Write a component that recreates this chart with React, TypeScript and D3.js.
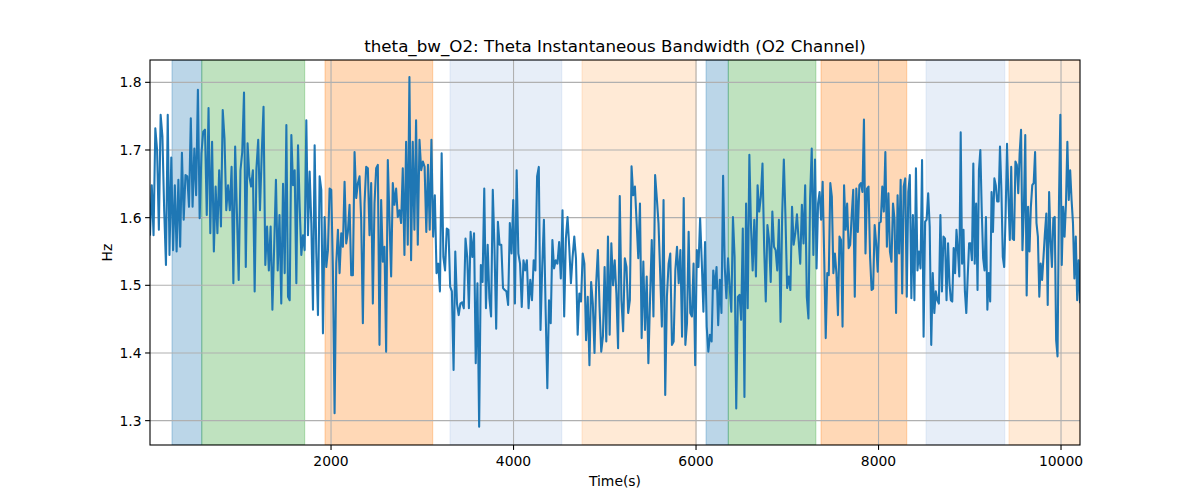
import React from "react";
import * as d3 from "d3";

// Signal values, read segment by segment across the time axis
const seg1 = [1.575, 1.648, 1.574, 1.732, 1.70, 1.582, 1.752, 1.72, 1.611, 1.530, 1.752, 1.545, 1.689, 1.552, 1.648, 1.550, 1.656, 1.557, 1.696, 1.597, 1.663, 1.661, 1.616, 1.747, 1.616, 1.702, 1.633, 1.789, 1.599, 1.695, 1.727, 1.730, 1.604, 1.762, 1.577, 1.712, 1.550, 1.646, 1.577, 1.670, 1.587, 1.759, 1.717, 1.611, 1.648, 1.611, 1.675, 1.503, 1.705, 1.606, 1.508, 1.670, 1.697, 1.785, 1.527, 1.710, 1.661, 1.646, 1.670, 1.491, 1.673, 1.715, 1.611, 1.695, 1.764, 1.530, 1.587, 1.522, 1.587, 1.464, 1.557, 1.656, 1.522, 1.604, 1.473];
const seg2 = [1.650, 1.518, 1.737, 1.483, 1.478, 1.722, 1.648, 1.670, 1.503, 1.707, 1.616, 1.545, 1.574, 1.552, 1.744, 1.574, 1.668, 1.592, 1.464, 1.707, 1.547, 1.456, 1.661, 1.641, 1.429, 1.601, 1.527, 1.552, 1.643, 1.641, 1.522, 1.311, 1.532, 1.582, 1.518, 1.577, 1.557, 1.653, 1.562, 1.579, 1.619, 1.515, 1.515, 1.697, 1.629, 1.651, 1.661, 1.597, 1.444, 1.621, 1.675, 1.673, 1.574, 1.651, 1.473, 1.621, 1.673, 1.678, 1.412, 1.626, 1.535, 1.557, 1.402, 1.685, 1.597, 1.513, 1.651, 1.619, 1.643, 1.601, 1.611, 1.592, 1.673, 1.545, 1.712, 1.560, 1.808, 1.537, 1.712, 1.582];
const seg3 = [1.744, 1.560, 1.715, 1.670, 1.683, 1.675, 1.579, 1.678, 1.582, 1.715, 1.572, 1.633, 1.518, 1.532, 1.491, 1.695, 1.542, 1.522, 1.584, 1.582, 1.498, 1.491, 1.375, 1.550, 1.473, 1.456, 1.473, 1.475, 1.466, 1.569, 1.542, 1.466, 1.579, 1.542, 1.577, 1.385, 1.503, 1.291, 1.530, 1.505, 1.643, 1.466, 1.560, 1.481, 1.454, 1.641, 1.555, 1.436, 1.594, 1.560, 1.560, 1.496, 1.493, 1.491, 1.471, 1.592, 1.547, 1.626, 1.473, 1.670, 1.547, 1.532, 1.468, 1.537, 1.522, 1.537, 1.466, 1.508, 1.478, 1.537, 1.522, 1.661, 1.675, 1.434, 1.527, 1.597, 1.464, 1.348];
const seg4 = [1.478, 1.444, 1.567, 1.525, 1.537, 1.532, 1.564, 1.510, 1.611, 1.454, 1.569, 1.601, 1.557, 1.503, 1.542, 1.572, 1.540, 1.427, 1.488, 1.476, 1.547, 1.532, 1.419, 1.483, 1.382, 1.505, 1.473, 1.400, 1.503, 1.552, 1.468, 1.402, 1.424, 1.527, 1.417, 1.572, 1.427, 1.562, 1.500, 1.537, 1.488, 1.407, 1.632, 1.478, 1.432, 1.540, 1.527, 1.459, 1.478, 1.676, 1.633, 1.646, 1.594, 1.540, 1.621, 1.422, 1.535, 1.434, 1.513, 1.385, 1.481, 1.567, 1.454, 1.663, 1.629, 1.592, 1.518, 1.439, 1.626, 1.338, 1.483, 1.532, 1.547, 1.412, 1.417, 1.522, 1.557, 1.503, 1.552];
const seg5 = [1.424, 1.629, 1.412, 1.444, 1.579, 1.459, 1.454, 1.532, 1.382, 1.552, 1.527, 1.599, 1.535, 1.461, 1.564, 1.439, 1.402, 1.427, 1.417, 1.522, 1.495, 1.527, 1.441, 1.508, 1.459, 1.662, 1.527, 1.481, 1.540, 1.498, 1.461, 1.601, 1.542, 1.318, 1.483, 1.486, 1.449, 1.584, 1.335, 1.621, 1.466, 1.693, 1.587, 1.522, 1.597, 1.513, 1.648, 1.609, 1.631, 1.680, 1.557, 1.476, 1.589, 1.567, 1.505, 1.609, 1.557, 1.552, 1.522, 1.597, 1.446, 1.606, 1.686, 1.601, 1.496, 1.513, 1.493, 1.616, 1.560, 1.577, 1.605, 1.567, 1.532, 1.619, 1.562, 1.648, 1.483, 1.451, 1.629, 1.702, 1.545];
const seg6 = [1.686, 1.525, 1.621, 1.638, 1.597, 1.653, 1.542, 1.422, 1.518, 1.515, 1.651, 1.631, 1.518, 1.547, 1.518, 1.456, 1.572, 1.567, 1.439, 1.648, 1.582, 1.621, 1.555, 1.560, 1.604, 1.641, 1.483, 1.643, 1.579, 1.648, 1.651, 1.638, 1.745, 1.547, 1.643, 1.646, 1.542, 1.493, 1.495, 1.589, 1.562, 1.520, 1.592, 1.594, 1.646, 1.609, 1.697, 1.557, 1.636, 1.550, 1.535, 1.621, 1.597, 1.459, 1.633, 1.547, 1.656, 1.488, 1.646, 1.658, 1.483, 1.638, 1.663, 1.481, 1.604, 1.478, 1.673, 1.522, 1.550, 1.525, 1.685, 1.424, 1.594, 1.597, 1.636, 1.587, 1.412, 1.518, 1.459, 1.491, 1.478, 1.473, 1.604, 1.491, 1.572, 1.569, 1.478];
const seg7 = [1.562, 1.503, 1.478, 1.476, 1.555, 1.518, 1.582, 1.552, 1.513, 1.726, 1.532, 1.582, 1.491, 1.459, 1.513, 1.562, 1.562, 1.537, 1.680, 1.532, 1.621, 1.493, 1.670, 1.700, 1.611, 1.540, 1.522, 1.601, 1.464, 1.518, 1.476, 1.638, 1.579, 1.658, 1.648, 1.624, 1.624, 1.705, 1.641, 1.542, 1.527, 1.604, 1.709, 1.631, 1.567, 1.675, 1.569, 1.567, 1.683, 1.678, 1.636, 1.695, 1.730, 1.552, 1.611, 1.722, 1.485, 1.616, 1.550, 1.616, 1.648, 1.651, 1.697, 1.592, 1.572, 1.483, 1.532, 1.508, 1.542, 1.577, 1.606, 1.471, 1.638, 1.567, 1.527, 1.599, 1.601, 1.419, 1.395, 1.621, 1.752, 1.530, 1.616, 1.572, 1.621, 1.712, 1.626, 1.670, 1.626, 1.592, 1.510, 1.572, 1.478, 1.537, 1.475];
const segments = [seg1, seg2, seg3, seg4, seg5, seg6, seg7];
// time (s) boundaries of each segment
const segmentBounds = [16, 1474, 2932, 4389, 5847, 7304, 8762, 10208];

// shaded state spans: [start, end, kind]
const spanStarts = [257, 583, 1934, 3304, 4751, 6110, 6354, 7370, 8521, 9430];
const spanEnds = [583, 1711, 3114, 4528, 6000, 6354, 7313, 8309, 9383, 10208];
const spanKinds = ["blue", "green", "orange", "lightblue", "lightorange", "blue", "green", "orange", "lightblue", "lightorange"];
const kindColors: Record<string, string> = {
  blue: "#1f77b4",
  green: "#2ca02c",
  orange: "#ff7f0e",
  lightblue: "#aec7e8",
  lightorange: "#ffbb78",
};

const xTicks = [2000, 4000, 6000, 8000, 10000];
const yTicks = [1.3, 1.4, 1.5, 1.6, 1.7, 1.8];

const W = 1200, H = 500;
const L = 150, R = 1080, T = 60, B = 445;

export default function App() {
  const points: [number, number][] = [];
  segments.forEach((seg, k) => {
    const t0 = segmentBounds[k], t1 = segmentBounds[k + 1];
    const last = k === segments.length - 1;
    const n = seg.length;
    seg.forEach((v, j) => {
      const t = last ? t0 + (j / (n - 1)) * (t1 - t0) : t0 + (j / n) * (t1 - t0);
      points.push([t, v]);
    });
  });

  const x = d3.scaleLinear().domain([16, 10208]).range([L, R]);
  const y = d3.scaleLinear().domain([1.264, 1.833]).range([B, T]);
  const line = d3.line<[number, number]>().x((d) => x(d[0])).y((d) => y(d[1]));
  const font = "DejaVu Sans, sans-serif";

  return (
    <svg width={W} height={H} style={{ position: "absolute", left: 0, top: 0, background: "#fff" }} fontFamily={font}>
      <defs>
        <clipPath id="clip">
          <rect x={L} y={T} width={R - L} height={B - T} />
        </clipPath>
      </defs>
      <rect x={0} y={0} width={W} height={H} fill="#fff" />
      <g clipPath="url(#clip)">
        {spanStarts.map((s, i) => {
          const c = kindColors[spanKinds[i]];
          return (
            <rect key={i} x={x(s)} y={T} width={x(spanEnds[i]) - x(s)} height={B - T}
              fill={c} fillOpacity={0.3} stroke={c} strokeOpacity={0.3} strokeWidth={1.1} />
          );
        })}
        {xTicks.map((t) => (
          <line key={"gx" + t} x1={x(t)} x2={x(t)} y1={T} y2={B} stroke="#b0b0b0" strokeWidth={1.1} />
        ))}
        {yTicks.map((t) => (
          <line key={"gy" + t} x1={L} x2={R} y1={y(t)} y2={y(t)} stroke="#b0b0b0" strokeWidth={1.1} />
        ))}
        <path d={line(points) || ""} fill="none" stroke="#1f77b4" strokeWidth={2.08} strokeLinejoin="round" strokeLinecap="square" />
      </g>
      <rect x={L} y={T} width={R - L} height={B - T} fill="none" stroke="#000" strokeWidth={1.1} />
      {xTicks.map((t) => (
        <g key={"xt" + t}>
          <line x1={x(t)} x2={x(t)} y1={B} y2={B + 4.9} stroke="#000" strokeWidth={1.1} />
          <text x={x(t)} y={B + 21} textAnchor="middle" fontSize={13.9} fill="#000">{t}</text>
        </g>
      ))}
      {yTicks.map((t) => (
        <g key={"yt" + t}>
          <line x1={L} x2={L - 4.9} y1={y(t)} y2={y(t)} stroke="#000" strokeWidth={1.1} />
          <text x={L - 8.5} y={y(t)} dy="0.35em" textAnchor="end" fontSize={13.9} fill="#000">{t.toFixed(1)}</text>
        </g>
      ))}
      <text x={(L + R) / 2} y={486} textAnchor="middle" fontSize={13.9} fill="#000">Time(s)</text>
      <text transform={`translate(112, ${(T + B) / 2}) rotate(-90)`} textAnchor="middle" fontSize={13.9} fill="#000">Hz</text>
      <text x={(L + R) / 2} y={52} textAnchor="middle" fontSize={16.7} fill="#000">theta_bw_O2: Theta Instantaneous Bandwidth (O2 Channel)</text>
    </svg>
  );
}
